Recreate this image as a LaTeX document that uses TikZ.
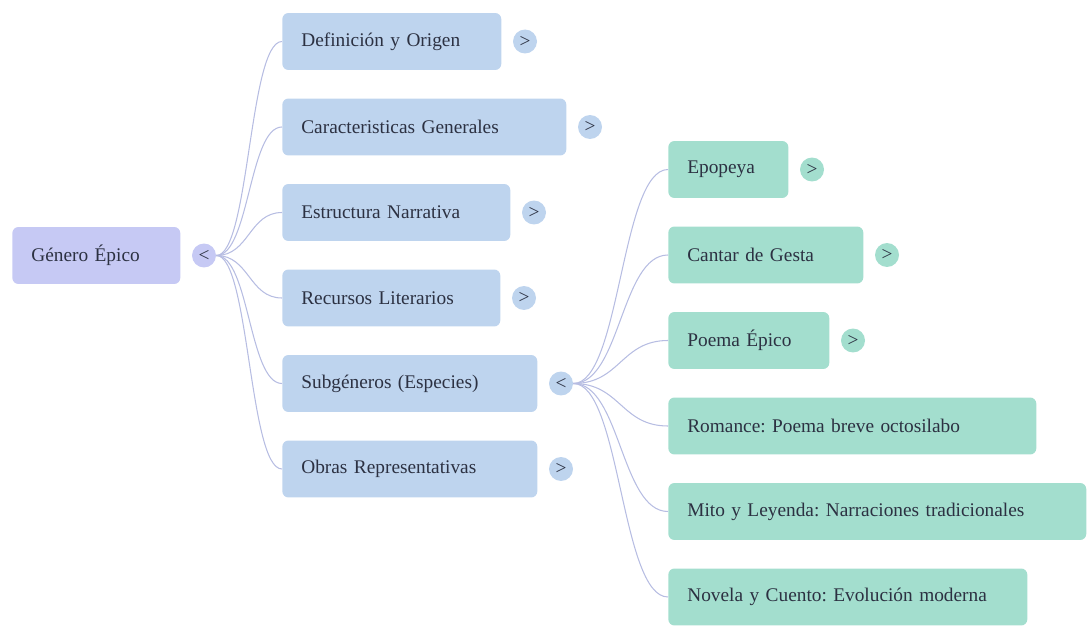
\documentclass[tikz,border=0pt]{standalone}
\usepackage{fontspec}
\setmainfont{Liberation Serif}
\usepackage{tikz}
\frenchspacing

\definecolor{rootfill}{HTML}{C6C9F4}
\definecolor{onefill}{HTML}{BED4EE}
\definecolor{twofill}{HTML}{A3DECE}
\definecolor{inkdark}{HTML}{2C3142}
\definecolor{linkcol}{HTML}{B7BDE2}

\tikzset{
  mapbox/.style={anchor=west, rounded corners=3.5pt, minimum height=1.14cm,
    inner xsep=0.38cm, align=left, text=inkdark,
    font=\fontsize{11}{14}\selectfont},
  rootbox/.style={mapbox, fill=rootfill},
  onebox/.style={mapbox, fill=onefill},
  twobox/.style={mapbox, fill=twofill},
  toggle/.style={circle, minimum size=0.48cm, inner sep=0pt, text=inkdark,
    font=\fontsize{11}{11}\selectfont},
  link/.style={linkcol, line width=0.6pt}
}

\begin{document}
\begin{tikzpicture}[x=0.02cm, y=-0.02cm]
    \useasboundingbox (0,0) rectangle (1092,628);

    \node[rootbox, text width=2.60cm] (genero) at (12,255.5) {Género Épico};
    \node[toggle, fill=rootfill] (tgen) at (204,255.5) {<};

    \node[onebox, text width=3.62cm] (def) at (282,41.5) {Definición y Origen};
    \node[onebox, text width=4.92cm] (car) at (282,127) {Caracteristicas Generales};
    \node[onebox, text width=3.80cm] (est) at (282,212.5) {Estructura Narrativa};
    \node[onebox, text width=3.60cm] (rec) at (282,298) {Recursos Literarios};
    \node[onebox, text width=4.34cm] (sub) at (282,383.5) {Subgéneros (Especies)};
    \node[onebox, text width=4.34cm] (obr) at (282,469) {Obras Representativas};

    \node[toggle, fill=onefill] (tdef) at (525,41.5) {>};
    \node[toggle, fill=onefill] (tcar) at (590,127) {>};
    \node[toggle, fill=onefill] (test) at (534,212.5) {>};
    \node[toggle, fill=onefill] (trec) at (524,298) {>};
    \node[toggle, fill=onefill] (tsub) at (561,383.5) {<};
    \node[toggle, fill=onefill] (tobr) at (561,469) {>};

    \node[twobox, text width=1.64cm] (epo) at (668,169.5) {Epopeya};
    \node[twobox, text width=3.14cm] (can) at (668,255) {Cantar de Gesta};
    \node[twobox, text width=2.46cm] (poe) at (668,340.5) {Poema Épico};
    \node[twobox, text width=6.60cm] (rom) at (668,426) {Romance: Poema breve octosilabo};
    \node[twobox, text width=7.60cm] (mit) at (668,511.5) {Mito y Leyenda: Narraciones tradicionales};
    \node[twobox, text width=6.42cm] (nov) at (668,597) {Novela y Cuento: Evolución moderna};

    \node[toggle, fill=twofill] (tepo) at (812,169.5) {>};
    \node[toggle, fill=twofill] (tcan) at (887,255) {>};
    \node[toggle, fill=twofill] (tpoe) at (853,340.5) {>};

    \foreach \n in {def,car,est,rec,sub,obr}
      \draw[link] (tgen.east) .. controls +(33,0) and +(-33,0) .. (\n.west);
    \foreach \n in {epo,can,poe,rom,mit,nov}
      \draw[link] (tsub.east) .. controls +(47,0) and +(-47,0) .. (\n.west);
\end{tikzpicture}
\end{document}
